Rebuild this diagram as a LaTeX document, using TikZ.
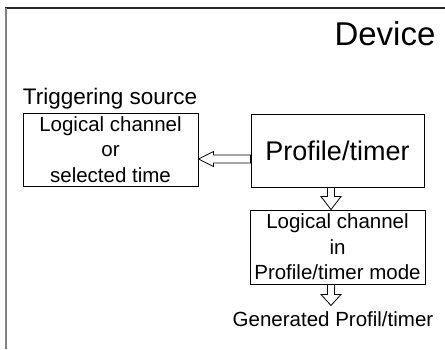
\documentclass[tikz,border=0pt]{standalone}
\usepackage{fontspec}
\setmainfont{Liberation Sans}
\usetikzlibrary{calc}

\begin{document}
\begin{tikzpicture}[x=1pt, y=-1pt, thick,
  box/.style={draw, line width=0.9pt, minimum width=175pt, minimum height=73pt,
    align=center, inner sep=0pt, font=\fontsize{20.5}{25.5}\selectfont},
  hollow/.style={draw, line width=0.8pt, fill=white, line join=miter}]

% cadre du device (coupé à droite et en bas)
\useasboundingbox (0,0) rectangle (445,349);
\draw[black!85, line width=1.2pt] (5,8) -- (445,8);
\draw[gray, line width=2pt] (5.5,8) -- (5.5,349);

% titres
\node[anchor=base, font=\fontsize{33}{36}\selectfont] (dev) at (385,45) {Device};
\node[anchor=base, font=\fontsize{22.5}{25}\selectfont] (trig) at (110,104) {Triggering source};

% blocs
\node[box] (src) at (110.5,149.5) {Logical channel\\or\\selected time};
\node[box, minimum width=173pt, font=\fontsize{27}{30}\selectfont] (prof) at (337.5,150.5) {Profile/timer};
\node[box, minimum height=74pt] (chan) at (337.5,247) {Logical channel\\in\\Profile/timer mode};

% sortie
\node[anchor=base, font=\fontsize{20.5}{24}\selectfont] (out) at (333,326) {Generated Profil/timer};

% flèche creuse : profile -> source
\coordinate (tl) at ($(src.east)+(0,9.5)$);
\draw[hollow] (tl) -- ++(15,-7.5) -- ++(0,3.5) -- ($(prof.west |- tl)+(0,-4)$)
  -- ++(0,8) -- ($(tl)+(15,4)$) -- ++(0,3.5) -- cycle;

% flèche creuse : profile -> channel
\coordinate (d1) at ($(chan.north)+(-6.5,0)$);
\draw[hollow] (d1) -- ++(-10,-13) -- ++(6.5,0) -- ($(prof.south -| d1)+(-3.5,0)$)
  -- ++(7,0) -- ($(d1)+(3.5,-13)$) -- ++(6.5,0) -- cycle;

% flèche creuse : channel -> sortie
\coordinate (d2) at ($(chan.south)+(-6.5,21)$);
\draw[hollow] (d2) -- ++(-10,-11) -- ++(6.5,0) -- ($(chan.south -| d2)+(-3.5,0)$)
  -- ++(7,0) -- ($(d2)+(3.5,-11)$) -- ++(6.5,0) -- cycle;

\end{tikzpicture}
\end{document}
